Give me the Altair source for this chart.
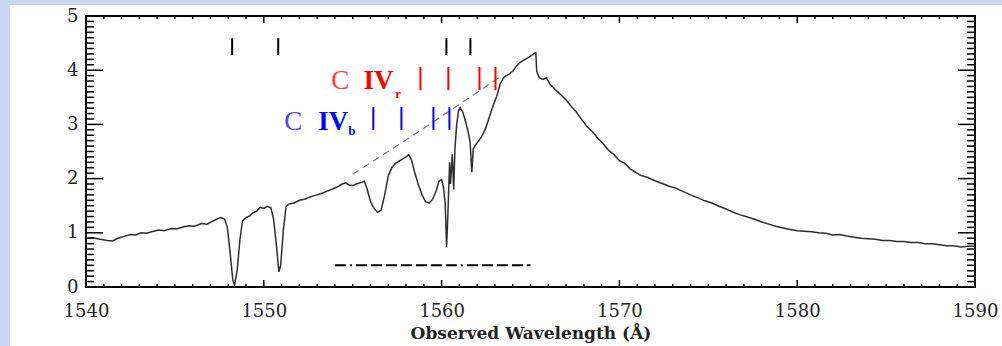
import altair as alt
import pandas as pd

# Observed spectrum around the C IV emission line
wavelength = [
    1540.0, 1540.4, 1540.8, 1541.2, 1541.5, 1541.8, 1542.1, 1542.5, 1542.8, 1543.1,
    1543.4, 1543.8, 1544.1, 1544.4, 1544.8, 1545.1, 1545.5, 1545.8, 1546.1, 1546.5,
    1546.8, 1547.1, 1547.4, 1547.6, 1547.8, 1547.95, 1548.1, 1548.25, 1548.35, 1548.5,
    1548.65, 1548.8, 1549.0, 1549.2, 1549.4, 1549.6, 1549.8, 1550.0, 1550.2, 1550.4,
    1550.55, 1550.7, 1550.85, 1550.95, 1551.1, 1551.25, 1551.4, 1551.7, 1552.0, 1552.3,
    1552.6, 1552.9, 1553.2, 1553.5, 1553.8, 1554.1, 1554.4, 1554.6, 1554.8, 1555.0,
    1555.2, 1555.5, 1555.65, 1555.8, 1556.0, 1556.2, 1556.4, 1556.6, 1556.8, 1557.0,
    1557.2, 1557.4, 1557.6, 1557.8, 1558.0, 1558.15, 1558.3, 1558.5, 1558.7, 1558.9,
    1559.1, 1559.3, 1559.5, 1559.7, 1559.85, 1560.0, 1560.1, 1560.2, 1560.28, 1560.35,
    1560.45, 1560.5, 1560.6, 1560.68, 1560.75, 1560.85, 1560.95, 1561.05, 1561.2, 1561.35,
    1561.5, 1561.6, 1561.7, 1561.78, 1561.9, 1562.1, 1562.3, 1562.5, 1562.7, 1562.9,
    1563.1, 1563.3, 1563.5, 1563.8, 1564.0, 1564.2, 1564.4, 1564.6, 1564.8, 1565.0,
    1565.2, 1565.3, 1565.35, 1565.5, 1565.7, 1565.9, 1566.1, 1566.4, 1566.7, 1567.0,
    1567.3, 1567.6, 1567.9, 1568.2, 1568.5, 1568.8, 1569.1, 1569.4, 1569.7, 1570.0,
    1570.3, 1570.6, 1570.9, 1571.2, 1571.6, 1572.0, 1572.4, 1572.8, 1573.2, 1573.6,
    1574.0, 1574.4, 1574.8, 1575.2, 1575.6, 1576.0, 1576.4, 1576.8, 1577.2, 1577.6,
    1578.0, 1578.4, 1578.8, 1579.2, 1579.6, 1580.0, 1580.4, 1580.8, 1581.2, 1581.6,
    1582.0, 1582.4, 1582.8, 1583.2, 1583.6, 1584.0, 1584.4, 1584.8, 1585.2, 1585.6,
    1586.0, 1586.4, 1586.8, 1587.2, 1587.6, 1588.0, 1588.4, 1588.8, 1589.2, 1589.6,
    1590.0,
]
flux = [
    0.90, 0.91, 0.88, 0.86, 0.85, 0.90, 0.93, 0.97, 0.96, 1.00,
    0.99, 1.03, 1.05, 1.04, 1.08, 1.07, 1.11, 1.13, 1.12, 1.17,
    1.16, 1.21, 1.26, 1.28, 1.25, 1.10, 0.65, 0.15, 0.02, 0.30,
    0.85, 1.22, 1.28, 1.31, 1.37, 1.40, 1.47, 1.45, 1.49, 1.46,
    1.25, 0.80, 0.28, 0.40, 1.05, 1.48, 1.53, 1.55, 1.60, 1.62,
    1.66, 1.69, 1.72, 1.76, 1.80, 1.84, 1.90, 1.92, 1.88, 1.87,
    1.90, 1.93, 1.95, 1.82, 1.58, 1.45, 1.38, 1.42, 1.70, 2.05,
    2.20, 2.28, 2.32, 2.36, 2.40, 2.44, 2.35, 2.10, 1.88, 1.70,
    1.57, 1.55, 1.62, 1.78, 1.95, 1.98, 1.85, 1.55, 0.74, 1.30,
    2.30, 1.90, 2.45, 1.80, 2.55, 3.00, 3.25, 3.31, 3.22, 3.05,
    2.85, 2.68, 2.12, 2.55, 2.62, 2.70, 2.80, 2.95, 3.15, 3.35,
    3.52, 3.75, 3.87, 3.93, 3.98, 4.07, 4.14, 4.18, 4.22, 4.26,
    4.31, 4.32, 3.98, 3.86, 3.83, 3.86, 3.74, 3.64, 3.55, 3.45,
    3.33, 3.22, 3.08, 2.95, 2.86, 2.74, 2.64, 2.52, 2.44, 2.33,
    2.28, 2.18, 2.12, 2.06, 2.02, 1.96, 1.91, 1.86, 1.82, 1.76,
    1.70, 1.65, 1.59, 1.55, 1.49, 1.44, 1.38, 1.33, 1.29, 1.25,
    1.20, 1.16, 1.12, 1.09, 1.06, 1.04, 1.03, 1.02, 1.00, 0.99,
    0.96, 0.97, 0.94, 0.92, 0.90, 0.89, 0.88, 0.86, 0.86, 0.84,
    0.84, 0.82, 0.82, 0.80, 0.80, 0.78, 0.76, 0.76, 0.74, 0.75,
    0.75,
]

# Fitted continuum under the absorption troughs (dashed)
cont_wave = [1555.0, 1557.0, 1559.0, 1561.0, 1563.4]
cont_flux = [2.08, 2.50, 2.93, 3.37, 3.90]

# Wavelength range marker (dash-dot)
range_wave = [1554.0, 1565.0]
range_flux = [0.40, 0.40]

# Line identification ticks
black_ticks = [1548.22, 1550.81, 1560.27, 1561.62]
red_ticks = [1558.81, 1560.38, 1562.13, 1563.03]
blue_ticks = [1556.16, 1557.74, 1559.54, 1560.44]

x_major = list(range(1540, 1591, 10))
x_minor = [v for v in range(1541, 1590) if v % 10 != 0]
y_major = [0, 1, 2, 3, 4, 5]
y_minor = [i / 10 for i in range(1, 50) if i % 10 != 0]

W, H = 889, 271
SERIF = "DejaVu Serif"
x_scale = alt.Scale(domain=[1540, 1590], nice=False, zero=False)
y_scale = alt.Scale(domain=[0, 5], nice=False, zero=False)

# one shared axis definition per channel, used by every layer
AX_X = alt.Axis(
    values=x_major, format="d", ticks=False, domain=False, grid=False,
    labelFont=SERIF, labelFontSize=18, labelColor="#222", labelPadding=15,
    title="Observed Wavelength (Å)", titleFont=SERIF, titleFontSize=17,
    titleFontWeight="bold", titleColor="#222", titlePadding=5, zindex=1,
    labelFlush=False,
)
AX_Y = alt.Axis(
    values=y_major, ticks=False, domain=False, grid=False,
    labelFont=SERIF, labelFontSize=18, labelColor="#222", labelPadding=8,
    title=None, zindex=1, labelFlush=False,
)


def X(field):
    return alt.X(field, scale=x_scale, axis=AX_X)


def Y(field):
    return alt.Y(field, scale=y_scale, axis=AX_Y)


one = pd.DataFrame({"k": [0]})

# white slide panel behind the plot
panel = alt.Chart(one).mark_rect(color="white").encode(
    x=alt.value(-76), x2=alt.value(916), y=alt.value(-11), y2=alt.value(H + 80)
)

spec_df = pd.DataFrame({"wave": wavelength, "flux": flux})
spectrum = alt.Chart(spec_df).mark_line(color="#2e2e2e", strokeWidth=1.5).encode(
    x=X("wave:Q"), y=Y("flux:Q")
)

cont_df = pd.DataFrame({"wave": cont_wave, "flux": cont_flux})
continuum = alt.Chart(cont_df).mark_line(
    color="#777", strokeWidth=1.2, strokeDash=[7, 5]
).encode(x=X("wave:Q"), y=Y("flux:Q"))

range_df = pd.DataFrame({"wave": range_wave, "flux": range_flux})
range_line = alt.Chart(range_df).mark_line(
    color="black", strokeWidth=2,
    strokeDash=[11, 4, 2, 4, 11, 4, 11, 4, 11, 4, 11, 4, 11, 4, 11, 4],
).encode(x=X("wave:Q"), y=Y("flux:Q"))


def id_ticks(values, color, lo, hi):
    df = pd.DataFrame({"wave": values, "lo": [lo] * len(values), "hi": [hi] * len(values)})
    return alt.Chart(df).mark_rule(color=color, strokeWidth=2).encode(
        x=X("wave:Q"), y=Y("lo:Q"), y2="hi:Q"
    )


ids = [
    id_ticks(black_ticks, "black", 4.28, 4.59),
    id_ticks(red_ticks, "#ff0000", 3.63, 4.06),
    id_ticks(blue_ticks, "#0000ff", 2.90, 3.32),
]

# ion labels
labels_plain = pd.DataFrame({
    "t": ["C", "C"], "wave": [1554.30, 1551.66], "flux": [3.80, 3.05],
    "c": ["#ff4040", "#4a4aff"],
})
labels_bold = pd.DataFrame({
    "t": ["IV", "IV"], "wave": [1556.45, 1553.90], "flux": [3.80, 3.05],
    "c": ["#ff0000", "#0000ff"],
})
labels_sub = pd.DataFrame({
    "t": ["r", "b"], "wave": [1557.55, 1554.95], "flux": [3.57, 2.88],
    "c": ["#ff0000", "#0000ff"],
})


def text_layer(df, size, weight):
    return alt.Chart(df).mark_text(
        font="Liberation Serif", fontSize=size, fontWeight=weight,
        align="center", baseline="middle",
    ).encode(
        x=X("wave:Q"), y=Y("flux:Q"),
        text="t:N",
        color=alt.Color("c:N", scale=None),
    )


texts = [
    text_layer(labels_plain, 27, "normal"),
    text_layer(labels_bold, 27, "bold"),
    text_layer(labels_sub, 13, "bold"),
]


# inward-pointing frame ticks
def xticks(values, length):
    df = pd.DataFrame({"v": values})
    base = alt.Chart(df).mark_rule(color="black", strokeWidth=1.5)
    bottom = base.encode(x=X("v:Q"), y=alt.value(H), y2=alt.value(H - length))
    top = base.encode(x=X("v:Q"), y=alt.value(0), y2=alt.value(length))
    return [bottom, top]


def yticks(values, length):
    df = pd.DataFrame({"v": values})
    base = alt.Chart(df).mark_rule(color="black", strokeWidth=1.5)
    left = base.encode(y=Y("v:Q"), x=alt.value(0), x2=alt.value(length))
    right = base.encode(y=Y("v:Q"), x=alt.value(W), x2=alt.value(W - length))
    return [left, right]


tick_layers = xticks(x_major, 7) + xticks(x_minor, 3) + yticks(y_major, 17) + yticks(y_minor, 8)

frame = alt.Chart(one).mark_rect(filled=False, stroke="black", strokeWidth=2).encode(
    x=alt.value(0), x2=alt.value(W), y=alt.value(0), y2=alt.value(H)
)

chart = alt.layer(
    panel, spectrum, continuum, range_line, *ids, *texts, *tick_layers, frame
).properties(
    width=W, height=H,
    autosize="none",
    padding={"left": 86, "top": 16, "right": 27, "bottom": 59},
).configure(
    background="#c9d8f1",
).configure_view(
    stroke=None,
)

chart.save("out.html", embed_options={"renderer": "svg", "actions": False})
